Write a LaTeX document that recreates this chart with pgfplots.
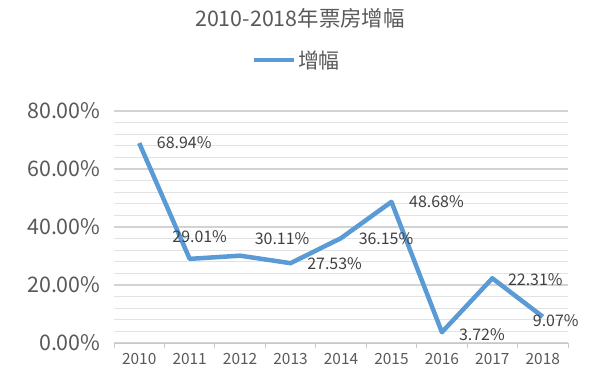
\documentclass[border=0pt]{standalone}
\usepackage{pgfplots}
\pgfplotsset{compat=1.18}
\usepackage{pgfplotstable}
\usepackage{fontspec}
\setmainfont{Noto Sans CJK SC}
\definecolor{lineblue}{HTML}{5B9BD5}
\definecolor{txtgray}{HTML}{595959}
\definecolor{lblgray}{HTML}{404040}
\definecolor{majgrid}{HTML}{D3D3D3}
\definecolor{mingrid}{HTML}{E2E2E2}
\definecolor{axgray}{HTML}{C8C8C8}
\pgfplotstableread{
x y dx dy
0 68.94 45 0
1 29.01 10 22
2 30.11 42 17
3 27.53 44 0
4 36.15 45 0
5 48.68 45 0
6 3.72 40 -2
7 22.31 43 -1
8 9.07 13 -4
}\growth
\begin{document}
\begin{tikzpicture}
\path[use as bounding box] (0,0) rectangle (600bp,382bp);
\node[font=\fontsize{21.5}{25}\selectfont, text=txtgray] at (300bp,364bp) {2010-2018年票房增幅};
\begin{axis}[
  at={(114bp,39bp)}, anchor=south west,
  scale only axis, width=454bp, height=232bp,
  xmin=-0.5, xmax=8.5, ymin=0, ymax=80,
  xtick={-0.5,0.5,...,8.5},
  x tick label as interval,
  xticklabels={2010,2011,2012,2013,2014,2015,2016,2017,2018},
  ytick={0,20,40,60,80},
  minor ytick={4,8,...,76},
  ymajorgrids, yminorgrids,
  major grid style={draw=majgrid, line width=1.2bp},
  minor grid style={draw=mingrid, line width=1bp},
  axis line style={draw=none},
  axis x line*=bottom,
  x axis line style={draw=axgray, line width=1bp},
  tick align=outside,
  major tick length=5bp,
  xtick style={draw=axgray, line width=1bp},
  ytick style={draw=none},
  minor tick length=0pt,
  /pgf/number format/assume math mode=true,
  yticklabel={\pgfmathprintnumber[fixed,fixed zerofill,precision=2]{\tick}\%},
  yticklabel style={font=\fontsize{21.5}{25}\selectfont, text=txtgray, xshift=-5bp},
  xticklabel style={font=\fontsize{15.5}{18}\selectfont, text=txtgray, yshift=-2bp},
  legend style={at={(axis description cs:0.403,1.22)}, anchor=center, draw=none, fill=none,
    font=\fontsize{21}{24}\selectfont, text=txtgray, legend columns=1},
  legend image code/.code={\draw[#1, line width=4bp] (0bp,0bp) -- (40bp,0bp);},
  clip=false,
]
\addplot[lineblue, line width=4.5bp, line join=round, mark=none,
  point meta=explicit,
  nodes near coords={\pgfmathprintnumber[fixed,fixed zerofill,precision=2]{\pgfplotspointmeta}\%},
  visualization depends on={\thisrow{dx}\as\dx},
  visualization depends on={\thisrow{dy}\as\dy},
  every node near coord/.append style={anchor=center, xshift=\dx bp, yshift=\dy bp,
    font=\fontsize{16}{18}\selectfont, text=lblgray},
] table[x=x, y=y, meta=y] {\growth};
\addlegendentry{增幅}
\end{axis}
\end{tikzpicture}
\end{document}
